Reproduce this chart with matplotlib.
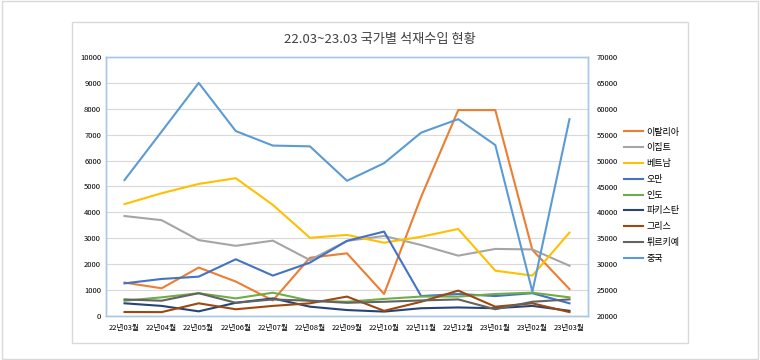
import matplotlib
matplotlib.use("Agg")
import matplotlib.pyplot as plt
from matplotlib.patches import Rectangle

plt.rcParams["font.family"] = ["Noto Sans CJK KR", "DejaVu Sans"]

months = ["22년03월", "22년04월", "22년05월", "22년06월", "22년07월", "22년08월",
          "22년09월", "22년10월", "22년11월", "22년12월", "23년01월", "23년02월",
          "23년03월"]

italy = [1290, 1070, 1870, 1330, 600, 2250, 2420, 850, 4600, 7950, 7950, 2550, 1040]
egypt = [3860, 3700, 2930, 2710, 2910, 2160, 2900, 3090, 2740, 2330, 2590, 2570, 1940]
vietnam = [4320, 4740, 5100, 5320, 4290, 3020, 3130, 2830, 3060, 3360, 1750, 1560, 3220]
oman = [1260, 1430, 1520, 2190, 1560, 2060, 2900, 3260, 770, 850, 770, 880, 490]
india = [590, 720, 880, 680, 900, 590, 550, 660, 750, 750, 850, 900, 720]
pakistan = [490, 390, 180, 510, 680, 360, 230, 170, 300, 330, 300, 390, 200]
greece = [155, 150, 490, 260, 390, 490, 750, 200, 550, 980, 360, 490, 150]
turkey = [640, 590, 880, 510, 640, 590, 510, 550, 600, 640, 260, 550, 640]
china = [46250, 55600, 65000, 55700, 52900, 52750, 46100, 49500, 55400, 58000,
         53000, 24700, 58000]

left_series = [
    ("이탈리아", italy, "#ED7D31"),
    ("이집트", egypt, "#A5A5A5"),
    ("베트남", vietnam, "#FFC000"),
    ("오만", oman, "#4472C4"),
    ("인도", india, "#70AD47"),
    ("파키스탄", pakistan, "#264478"),
    ("그리스", greece, "#9E480E"),
    ("튀르키예", turkey, "#636363"),
]

fig = plt.figure(figsize=(7.6, 3.6), dpi=100)
fig.patches.append(Rectangle((0.002, 0.003), 0.995, 0.993, transform=fig.transFigure,
                             fill=False, edgecolor="#D9D9D9", linewidth=1))
fig.patches.append(Rectangle((72 / 760, 1 - 343 / 360), (688 - 72) / 760, (343 - 22) / 360,
                             transform=fig.transFigure, fill=False,
                             edgecolor="#D9D9D9", linewidth=1))

ax = fig.add_axes([106 / 760, 44 / 360, 482 / 760, 259 / 360])
x = range(len(months))
handles = []
for name, vals, col in left_series:
    h, = ax.plot(x, vals, color=col, linewidth=1.5, label=name)
    handles.append(h)

ax.set_xlim(-0.5, len(months) - 0.5)
ax.set_ylim(0, 10000)
ax.set_yticks(range(0, 10001, 1000))
ax.set_xticks(list(x))
ax.set_xticklabels(months)
ax.grid(axis="y", color="#D9D9D9", linewidth=0.8)
ax.set_axisbelow(True)
ax.tick_params(axis="both", length=0, labelsize=5.5, colors="#000000")
ax.tick_params(axis="x", pad=6)

ax2 = ax.twinx()
h, = ax2.plot(x, china, color="#5B9BD5", linewidth=1.5, label="중국")
handles.append(h)
ax2.set_ylim(20000, 70000)
ax2.set_yticks(range(20000, 70001, 5000))
ax2.tick_params(axis="y", length=0, labelsize=5.5, pad=6)

for a in (ax, ax2):
    for s in a.spines.values():
        s.set_color("#A9C8E8")
        s.set_linewidth(1)

fig.text(380 / 760, 1 - 40 / 360, "22.03~23.03 국가별 석재수입 현황",
         ha="center", va="center", fontsize=9.5, color="#404040")

fig.legend(handles=handles, loc="upper left", bbox_to_anchor=(620 / 760, 1 - 124 / 360),
           frameon=False, fontsize=6.5, handlelength=2.2, handletextpad=0.3,
           labelspacing=0.75, borderaxespad=0)

fig.savefig("out.png", dpi=100)
